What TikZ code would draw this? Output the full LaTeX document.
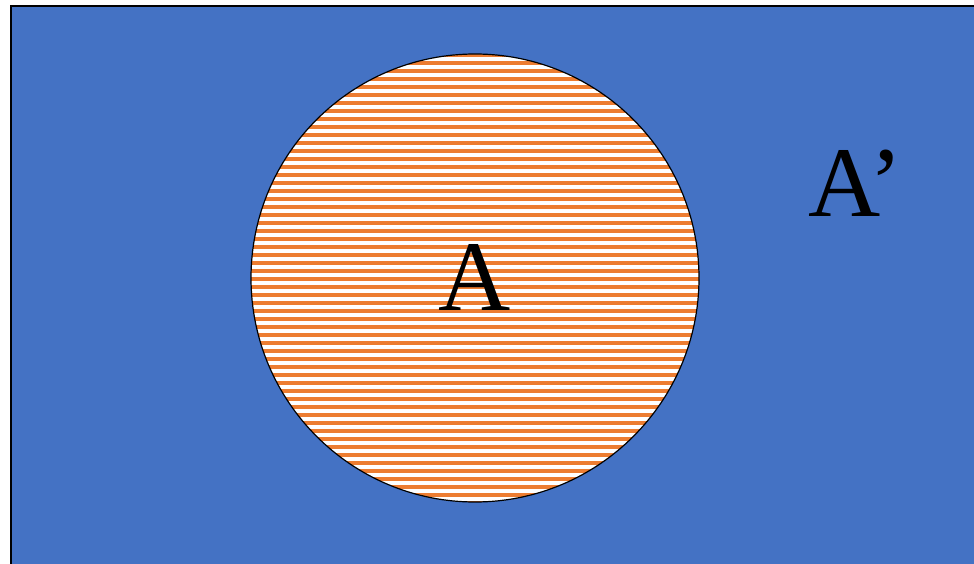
\documentclass[tikz,border=0pt]{standalone}
\usepackage{fontspec}
\setmainfont{Liberation Serif}
\definecolor{uniblue}{HTML}{4472C4}
\definecolor{setorange}{HTML}{ED7D31}
\begin{document}
\begin{tikzpicture}[x=1pt,y=-1pt,
  biglabel/.style={inner sep=0pt,anchor=base,font=\fontsize{100}{100}\selectfont}]
\useasboundingbox (0,0) rectangle (974,564);
\fill[white] (0,0) rectangle (974,564);
% universe rectangle
\begin{scope}
\clip (0,0) rectangle (974,564);
\draw[line width=2pt,fill=uniblue] (11,6) rectangle (990,580);
\end{scope}
% set A with stripes
\fill[white] (475,278) circle (224);
\begin{scope}
\clip (475,278) circle (224);
\foreach \k in {-1,...,57} {
  \fill[setorange] (240,{61+8*\k}) rectangle (710,{65+8*\k});
}
\end{scope}
\draw[line width=1.2pt] (475,278) circle (224);
\node[biglabel] (A) at (475,310) {A};
\node[biglabel] (Ac) at (856,217) {A’};
\end{tikzpicture}
\end{document}
